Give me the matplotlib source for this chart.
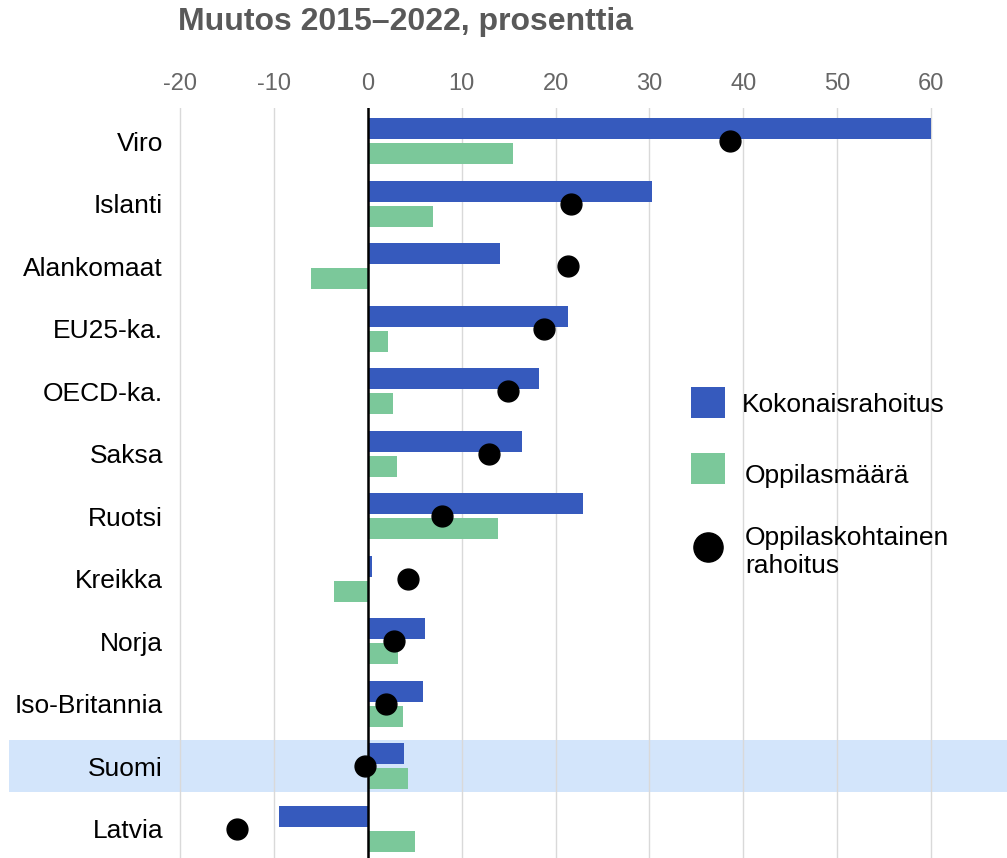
import matplotlib.pyplot as plt
from matplotlib.patches import Rectangle
from matplotlib.lines import Line2D
import numpy as np

# Data
maat = ["Viro", "Islanti", "Alankomaat", "EU25-ka.", "OECD-ka.", "Saksa",
        "Ruotsi", "Kreikka", "Norja", "Iso-Britannia", "Suomi", "Latvia"]
kokonaisrahoitus = [60.0, 30.3, 14.1, 21.3, 18.2, 16.4, 22.9, 0.5, 6.1, 5.9, 3.9, -9.5]
oppilasmaara = [15.5, 7.0, -6.0, 2.2, 2.7, 3.1, 13.9, -3.6, 3.2, 3.8, 4.3, 5.0]
oppilaskohtainen = [38.6, 21.6, 21.3, 18.8, 14.9, 12.9, 7.9, 4.3, 2.8, 1.9, -0.3, -13.9]
xticks = [-20, -10, 0, 10, 20, 30, 40, 50, 60]
korostettu = "Suomi"

BLUE = "#365abd"
GREEN = "#7bc89a"
HIGHLIGHT = "#d3e5fb"

plt.rcParams['font.family'] = ['Liberation Sans', 'DejaVu Sans']

W, H = 1007, 858
fig = plt.figure(figsize=(W / 100, H / 100), dpi=100)
ax = fig.add_axes([170 / W, 0, (W - 170) / W, (858 - 108) / H])

y = np.arange(len(maat))
bh = 0.335
off = 0.2

# highlight band for Finland
i_fi = maat.index(korostettu)
band = Rectangle((-161 / (W - 170), i_fi - 0.415), 1 + 161 / (W - 170), 0.83,
                 transform=ax.get_yaxis_transform(), facecolor=HIGHLIGHT,
                 edgecolor='none', clip_on=False, zorder=0)
ax.add_patch(band)

ax.barh(y - off, kokonaisrahoitus, height=bh, color=BLUE, zorder=3)
ax.barh(y + off, oppilasmaara, height=bh, color=GREEN, zorder=3)
ax.plot(oppilaskohtainen, y, linestyle='none', marker='o', markersize=15,
        color='black', zorder=5)

ax.axvline(0, color='black', linewidth=1.8, zorder=4)

ax.set_xlim(-21.07, 68.1)
ax.set_ylim(11.47, -0.53)
ax.set_xticks(xticks)
ax.set_xticklabels([str(t) for t in xticks])
ax.xaxis.tick_top()
ax.tick_params(axis='x', length=0, pad=9, labelsize=17, labelcolor='#666666')
ax.set_yticks(y)
ax.set_yticklabels(maat)
ax.tick_params(axis='y', length=0, pad=5, labelsize=19, labelcolor='black')
ax.grid(axis='x', color='#d9d9d9', linewidth=1)
ax.set_axisbelow(True)
for s in ax.spines.values():
    s.set_visible(False)
ax.patch.set_alpha(0)

fig.text(178 / W, 1 - 22 / H, "Muutos 2015\u20132022, prosenttia", fontsize=23,
         fontweight='bold', color='#595959', ha='left', va='center')

# legend drawn by hand
fig.patches.append(Rectangle((691 / W, 1 - 418 / H), 34 / W, 31 / H,
                             transform=fig.transFigure, facecolor=BLUE, edgecolor='none'))
fig.patches.append(Rectangle((691 / W, 1 - 484 / H), 34 / W, 31 / H,
                             transform=fig.transFigure, facecolor=GREEN, edgecolor='none'))
fig.lines.append(Line2D([708 / W], [1 - 547 / H], transform=fig.transFigure,
                        marker='o', markersize=21, color='black', linestyle='none'))
fig.text(742 / W, 1 - 405 / H, "Kokonaisrahoitus", fontsize=19, ha='left', va='center')
fig.text(745 / W, 1 - 476 / H, "Oppilasmäärä", fontsize=19, ha='left', va='center')
fig.text(745 / W, 1 - 552 / H, "Oppilaskohtainen\nrahoitus", fontsize=19,
         ha='left', va='center', linespacing=1.2)

fig.savefig("out.png", dpi=100)
